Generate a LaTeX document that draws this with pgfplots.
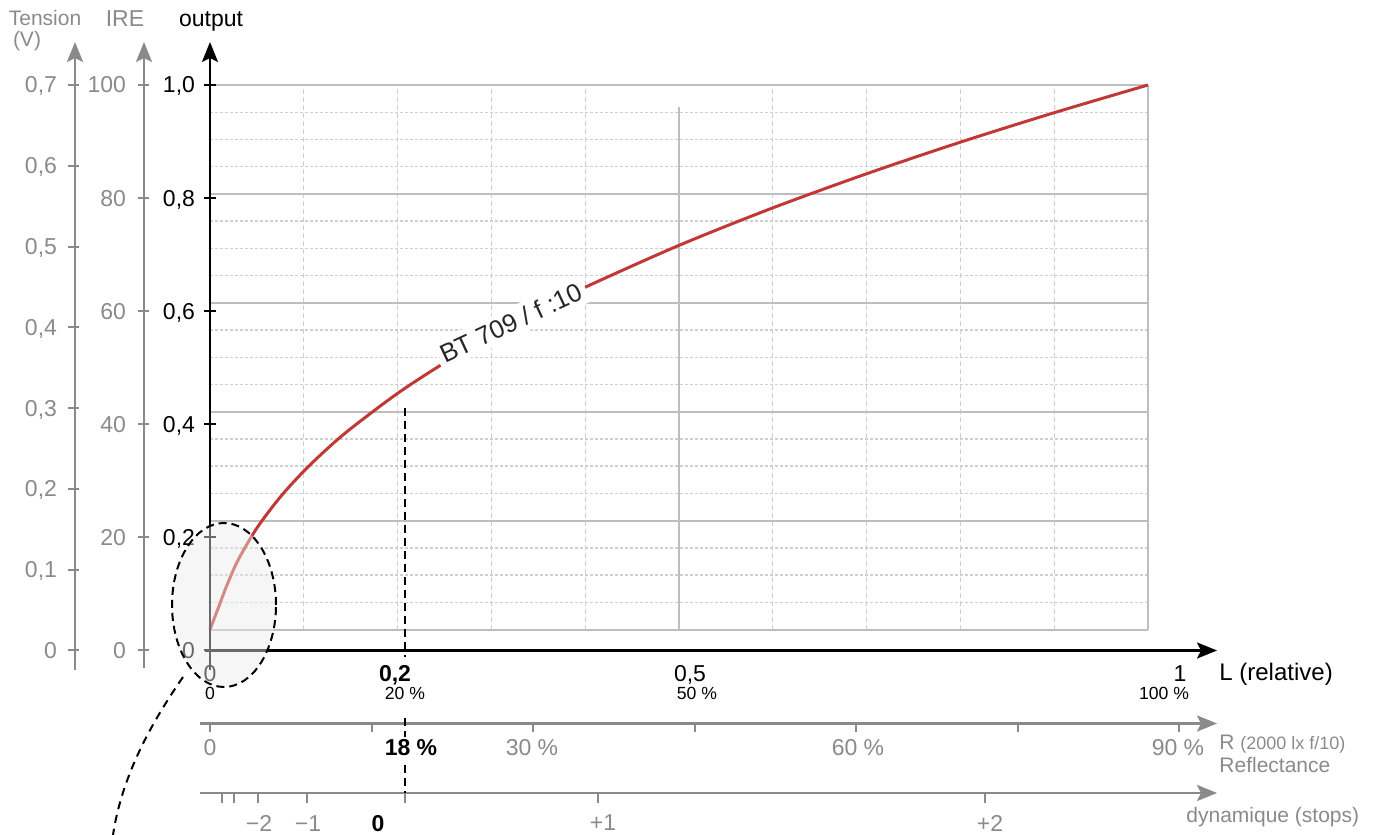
\documentclass[border=0pt]{standalone}
\usepackage{pgfplots}
\usepackage{pgfplotstable}
\pgfplotsset{compat=1.18}
\usepackage{fontspec}
\setmainfont{Liberation Sans}
\usetikzlibrary{arrows.meta}
\definecolor{axgray}{HTML}{8A8A8A}
\definecolor{gridsolid}{HTML}{BEBEBE}
\definecolor{griddash}{HTML}{CFCFCF}
\definecolor{curvered}{RGB}{192,57,52}
\newcommand{\pp}[2]{(axis cs:{(#1-210)/938},{(650.5-#2)/565.5})}
\newcommand{\lbl}{\fontsize{11.5}{13}\selectfont}
\newcommand{\sml}{\fontsize{8.8}{10}\selectfont}
\newcommand{\mdf}{\fontsize{10.5}{12}\selectfont}
\tikzset{ar/.style={-{Stealth[length=10pt,width=8pt,inset=2pt]}}}

% BT.709 output curve (L relative, output)
\pgfplotstableread{
L V
0 0.0370
0.005 0.0587
0.01 0.0803
0.018 0.1152
0.03 0.1601
0.05 0.2166
0.075 0.2716
0.1 0.3171
0.125 0.3568
0.15 0.3923
0.2 0.4547
0.25 0.5088
0.3 0.5573
0.35 0.6015
0.4 0.6424
0.5 0.7164
0.6 0.7827
0.7 0.8430
0.8 0.8989
0.9 0.9510
1.0 1.0000
}\curvedata

\begin{document}
\begin{tikzpicture}
\begin{axis}[scale only axis, width=688pt, height=417.5pt,
  xmin=-0.223881, xmax=1.243070, ymin=-0.326260, ymax=1.150309,
  axis lines=none, clip=false]
\coordinate (SW) at (rel axis cs:0,0);
\coordinate (NE) at (rel axis cs:1,1);

% grid
\pgfplotsinvokeforeach{1,2,3,5,6,7,9,10,11,13,14,15,17,18,19}{
  \draw[griddash, line width=0.7pt, dash pattern=on 1.5pt off 1pt]
    (axis cs:0,{0.037+0.963*0.05*#1}) -- (axis cs:1,{0.037+0.963*0.05*#1});
}
\pgfplotsinvokeforeach{0.1,0.2,0.3,0.4,0.6,0.7,0.8,0.9}{
  \draw[griddash, line width=0.5pt, dash pattern=on 2.5pt off 1.5pt]
    (axis cs:#1,0.037) -- (axis cs:#1,1);
}
\draw[gridsolid, line width=0.6pt] (axis cs:0.5,0.037) -- (axis cs:0.5,0.961);
\draw[gridsolid, line width=1pt] (axis cs:1,0.037) -- (axis cs:1,1);
\pgfplotsinvokeforeach{0,1,2,3,4,5}{
  \draw[gridsolid, line width=1pt]
    (axis cs:0,{0.037+0.963*0.2*#1}) -- (axis cs:1,{0.037+0.963*0.2*#1});
}

% curve
\addplot[curvered, line width=1.5pt, smooth] table[x=L, y=V] {\curvedata};

% curve label
\node[anchor=base, rotate=25, fill=white, inner sep=2.5pt, text=black!85,
  font=\fontsize{12.8}{14}\selectfont] at \pp{515}{331} {BT 709 / f :10};

% ---- left axes ----
% Tension
\draw[axgray, line width=1.25pt, ar] \pp{75}{670} -- \pp{75}{42};
\pgfplotsinvokeforeach{0,1,2,3,4,5,6,7}{
  \draw[axgray, line width=1pt] (axis cs:{(68-210)/938},{#1/7}) -- (axis cs:{(79-210)/938},{#1/7});
}
\node[anchor=base east, text=axgray, font=\lbl, yshift=-4pt] at (axis cs:{(64-210)/938},0) {0};
\node[anchor=base east, text=axgray, font=\lbl, yshift=-4pt] at (axis cs:{(64-210)/938},{1/7}) {0,1};
\node[anchor=base east, text=axgray, font=\lbl, yshift=-4pt] at (axis cs:{(64-210)/938},{2/7}) {0,2};
\node[anchor=base east, text=axgray, font=\lbl, yshift=-4pt] at (axis cs:{(64-210)/938},{3/7}) {0,3};
\node[anchor=base east, text=axgray, font=\lbl, yshift=-4pt] at (axis cs:{(64-210)/938},{4/7}) {0,4};
\node[anchor=base east, text=axgray, font=\lbl, yshift=-4pt] at (axis cs:{(64-210)/938},{5/7}) {0,5};
\node[anchor=base east, text=axgray, font=\lbl, yshift=-4pt] at (axis cs:{(64-210)/938},{6/7}) {0,6};
\node[anchor=base east, text=axgray, font=\lbl, yshift=-4pt] at (axis cs:{(64-210)/938},1) {0,7};
\node[text=axgray, font=\mdf, anchor=base] at \pp{45}{26} {Tension};
\node[text=axgray, font=\mdf, anchor=base] at \pp{27}{47} {(V)};

% IRE
\draw[axgray, line width=1.25pt, ar] \pp{144}{668} -- \pp{144}{42};
\pgfplotsinvokeforeach{0,0.2,0.4,0.6,0.8,1}{
  \draw[axgray, line width=1pt] (axis cs:{(138-210)/938},#1) -- (axis cs:{(149-210)/938},#1);
}
\node[anchor=base east, text=axgray, font=\lbl, yshift=-4pt] at (axis cs:{(133-210)/938},0) {0};
\node[anchor=base east, text=axgray, font=\lbl, yshift=-4pt] at (axis cs:{(133-210)/938},0.2) {20};
\node[anchor=base east, text=axgray, font=\lbl, yshift=-4pt] at (axis cs:{(133-210)/938},0.4) {40};
\node[anchor=base east, text=axgray, font=\lbl, yshift=-4pt] at (axis cs:{(133-210)/938},0.6) {60};
\node[anchor=base east, text=axgray, font=\lbl, yshift=-4pt] at (axis cs:{(133-210)/938},0.8) {80};
\node[anchor=base east, text=axgray, font=\lbl, yshift=-4pt] at (axis cs:{(133-210)/938},1) {100};
\node[text=axgray, font=\lbl, anchor=base] at \pp{125}{27} {IRE};

% output
\draw[black, line width=1.1pt, ar] \pp{210}{670} -- \pp{210}{42};
\pgfplotsinvokeforeach{0,0.2,0.4,0.6,0.8,1}{
  \draw[black, line width=1pt] (axis cs:{(204-210)/938},#1) -- (axis cs:{(216-210)/938},#1);
}
\node[anchor=base east, font=\lbl, yshift=-4pt] at (axis cs:{(202-210)/938},0) {0};
\node[anchor=base east, font=\lbl, yshift=-4pt] at (axis cs:{(202-210)/938},0.2) {0,2};
\node[anchor=base east, font=\lbl, yshift=-4pt] at (axis cs:{(202-210)/938},0.4) {0,4};
\node[anchor=base east, font=\lbl, yshift=-4pt] at (axis cs:{(202-210)/938},0.6) {0,6};
\node[anchor=base east, font=\lbl, yshift=-4pt] at (axis cs:{(202-210)/938},0.8) {0,8};
\node[anchor=base east, font=\lbl, yshift=-4pt] at (axis cs:{(202-210)/938},1) {1,0};
\node[font=\lbl, anchor=base] at \pp{211}{27} {output};

% ---- bottom axes ----
% L axis
\draw[black, line width=1.1pt, ar] \pp{205}{650.5} -- \pp{1217}{650.5};
\node[font=\lbl, anchor=base] at \pp{210}{682} {0};
\node[font=\lbl\bfseries, anchor=base] at \pp{395}{682} {0,2};
\node[font=\lbl, anchor=base] at \pp{690}{682} {0,5};
\node[font=\lbl, anchor=base] at \pp{1180}{682} {1};
\node[font=\sml, anchor=base] at \pp{210}{700} {0};
\node[font=\sml, anchor=base] at \pp{405}{700} {20 \%};
\node[font=\sml, anchor=base] at \pp{697}{700} {50 \%};
\node[font=\sml, anchor=base] at \pp{1164}{700} {100 \%};
\node[font=\fontsize{12}{14}\selectfont, anchor=base west, inner sep=0pt] at \pp{1219}{681} {L (relative)};

% Reflectance axis
\draw[axgray, line width=1.2pt, ar] \pp{200}{723.5} -- \pp{1217}{723.5};
\pgfplotsinvokeforeach{210,371.5,533,694.5,856,1017.5,1179}{
  \draw[axgray, line width=1pt] \pp{#1}{723.5} -- \pp{#1}{732};
}
\node[text=axgray, font=\lbl, anchor=base] at \pp{210}{756} {0};
\node[font=\lbl\bfseries, anchor=base] at \pp{411}{756} {18 \%};
\node[text=axgray, font=\lbl, anchor=base] at \pp{532}{756} {30 \%};
\node[text=axgray, font=\lbl, anchor=base] at \pp{858}{756} {60 \%};
\node[text=axgray, font=\lbl, anchor=base] at \pp{1178}{756} {90 \%};
\node[text=axgray, font=\mdf, anchor=base west, inner sep=0pt] at \pp{1219}{750} {R {\fontsize{9}{10}\selectfont(2000 lx f/10)}};
\node[text=axgray, font=\mdf, anchor=base west, inner sep=0pt] at \pp{1219}{773} {Reflectance};

% stops axis
\draw[axgray, line width=1.2pt, ar] \pp{200}{793} -- \pp{1217}{793};
\pgfplotsinvokeforeach{222,234,258,307,405,598,985}{
  \draw[axgray, line width=1pt] \pp{#1}{793} -- \pp{#1}{803};
}
\node[text=axgray, font=\lbl, anchor=base] at \pp{259}{832} {−2};
\node[text=axgray, font=\lbl, anchor=base] at \pp{308}{832} {−1};
\node[font=\lbl\bfseries, anchor=base] at \pp{378}{832} {0};
\node[text=axgray, font=\lbl, anchor=base] at \pp{603}{831} {+1};
\node[text=axgray, font=\lbl, anchor=base] at \pp{990}{832} {+2};
\node[text=axgray, font=\mdf, anchor=base west, inner sep=0pt] at \pp{1186}{823} {dynamique (stops)};

% dashed reference line at 18 % (interrupted by the labels)
\draw[black, line width=1pt, dash pattern=on 4pt off 2.5pt] \pp{405}{408} -- \pp{405}{657};
\draw[black, line width=1pt, dash pattern=on 4pt off 2.5pt] \pp{405}{718} -- \pp{405}{737};
\draw[black, line width=1pt, dash pattern=on 4pt off 2.5pt] \pp{405}{765} -- \pp{405}{793};

% zoom ellipse
\draw[black, line width=1pt, dash pattern=on 4pt off 2.5pt, fill=black!8, fill opacity=0.45]
  \pp{224}{605} ellipse [x radius=26pt, y radius=41pt];
\draw[black, line width=1pt, dash pattern=on 4pt off 3pt]
  \pp{183}{677} .. controls \pp{152}{722} and \pp{122}{775} .. \pp{113}{835};
\end{axis}
\pgfresetboundingbox
\path[use as bounding box] (SW) rectangle (NE);
\end{tikzpicture}
\end{document}
